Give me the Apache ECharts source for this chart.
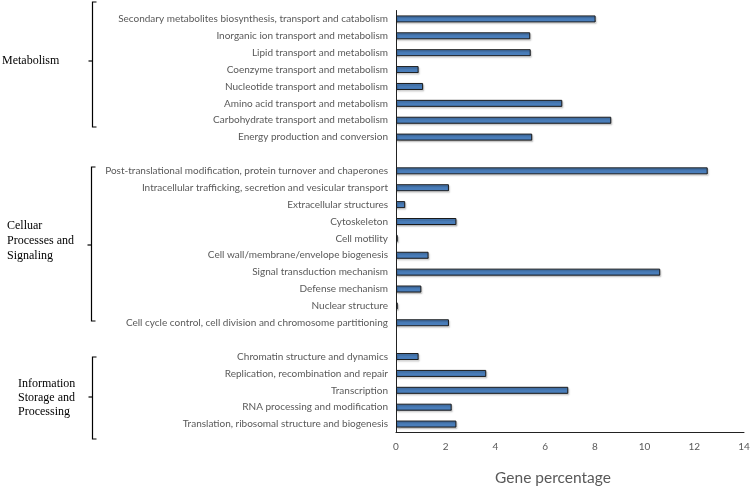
<!DOCTYPE html>
<html>
<head>
<meta charset="utf-8">
<script src="https://cdn.jsdelivr.net/npm/echarts@6/dist/echarts.min.js"></script>
<style>html,body{margin:0;padding:0;background:#fff;}#c{width:750px;height:486px;}</style>
</head>
<body>
<div id="c"></div>
<script>
var categories = [
  'Secondary metabolites biosynthesis, transport and catabolism',
  'Inorganic ion transport and metabolism',
  'Lipid transport and metabolism',
  'Coenzyme transport and metabolism',
  'Nucleotide transport and metabolism',
  'Amino acid transport and metabolism',
  'Carbohydrate transport and metabolism',
  'Energy production and conversion',
  ' ',
  'Post-translational modification, protein turnover and chaperones',
  'Intracellular trafficking, secretion and vesicular transport',
  'Extracellular structures',
  'Cytoskeleton',
  'Cell motility',
  'Cell wall/membrane/envelope biogenesis',
  'Signal transduction mechanism',
  'Defense mechanism',
  'Nuclear structure',
  'Cell cycle control, cell division and chromosome partitioning',
  '  ',
  'Chromatin structure and dynamics',
  'Replication, recombination and repair',
  'Transcription',
  'RNA processing and modification',
  'Translation, ribosomal structure and biogenesis'
];
var genePercentage = [
  8.03, 5.40, 5.42, 0.91, 1.09, 6.69, 8.66, 5.48,
  null,
  12.54, 2.13, 0.37, 2.43, 0.07, 1.31, 10.63, 1.02, 0.07, 2.13,
  null,
  0.91, 3.63, 6.93, 2.24, 2.43
];
var xTicks = [0, 2, 4, 6, 8, 10, 12, 14];
var groupLabels = ['Metabolism', 'Celluar\nProcesses and\nSignaling', 'Information\nStorage and\nProcessing'];
var axisTitle = 'Gene percentage';

var chart = echarts.init(document.getElementById('c'), null, {renderer: 'canvas'});

function brace(x, y1, y2, ym) {
  return [
    {type: 'polyline', shape: {points: [[x + 4, y1], [x, y1], [x, y2], [x + 4, y2]]}, style: {stroke: '#000', lineWidth: 1.2, fill: null}},
    {type: 'line', shape: {x1: x, y1: ym, x2: x - 4, y2: ym}, style: {stroke: '#000', lineWidth: 1.2}}
  ];
}
var serifFont = '12px "Liberation Serif", "Times New Roman", serif';
var graphics = [].concat(
  brace(92.5, 2, 127, 61),
  brace(91.5, 167, 321, 245),
  brace(92.5, 357, 439, 397),
  [
    {type: 'text', left: 2, top: 55, style: {text: groupLabels[0], font: serifFont, fill: '#000'}},
    {type: 'text', left: 7, top: 218, style: {text: groupLabels[1], font: serifFont, fill: '#000', lineHeight: 15}},
    {type: 'text', left: 18, top: 377, style: {text: groupLabels[2], font: serifFont, fill: '#000', lineHeight: 14}}
  ]
);

chart.setOption({
  backgroundColor: '#fff',
  animation: false,
  grid: {left: 396, right: 6, top: 10.5, bottom: 53.5, containLabel: false, outerBoundsMode: 'none'},
  xAxis: {
    type: 'value', min: 0, max: 14, interval: 2,
    axisLine: {show: true, lineStyle: {color: '#222', width: 1}},
    axisTick: {show: false},
    splitLine: {show: false},
    axisLabel: {color: '#595959', fontSize: 10, fontFamily: 'Lato', margin: 9,
      formatter: function (v) { return xTicks.indexOf(v) >= 0 ? String(v) : ''; }},
    name: axisTitle, nameLocation: 'middle', nameGap: 37,
    nameTextStyle: {color: '#595959', fontSize: 15.5, fontFamily: 'Lato', padding: [0, 34, 0, 0]}
  },
  yAxis: {
    type: 'category', inverse: true, data: categories,
    axisLine: {show: true, lineStyle: {color: '#222', width: 1}},
    axisTick: {show: false},
    axisLabel: {color: '#595959', fontSize: 10, fontFamily: 'Lato', margin: 8}
  },
  series: [{
    type: 'bar', data: genePercentage, barWidth: 7,
    itemStyle: {color: '#4a7ebb', borderColor: '#1a1a1a', borderWidth: 1,
      shadowColor: 'rgba(0,0,0,0.25)', shadowOffsetX: 1, shadowOffsetY: 1.5, shadowBlur: 1.5}
  }],
  graphic: graphics
});
</script>
</body>
</html>
